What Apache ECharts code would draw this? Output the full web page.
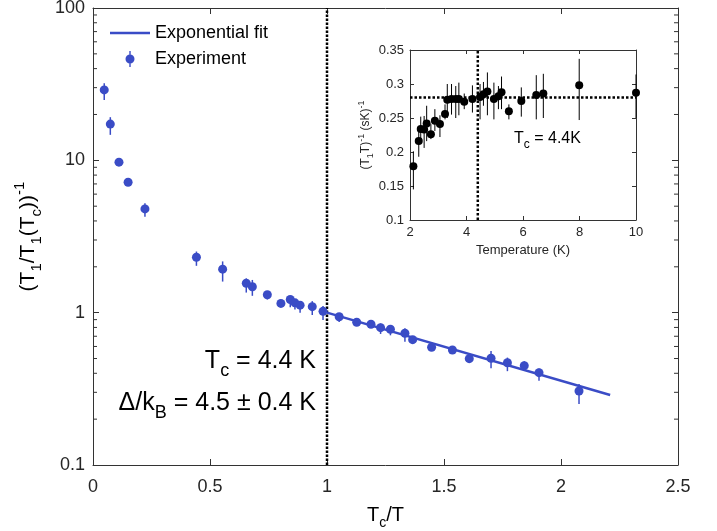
<!DOCTYPE html>
<html><head><meta charset="utf-8">
<script src="https://cdn.jsdelivr.net/npm/echarts@6/dist/echarts.min.js"></script>
<style>html,body{margin:0;padding:0;background:#fff}#c{width:717px;height:531px}</style>
</head><body><div id="c"></div>
<script>
// ---- Main plot data: Tc/T vs (T1/T1(Tc))^-1 ----
const mainX  = [0.048,0.074,0.111,0.150,0.222,0.442,0.554,0.655,0.681,0.745,0.803,0.843,0.863,0.885,0.937,0.983,1.052,1.127,1.188,1.229,1.271,1.333,1.366,1.447,1.536,1.608,1.701,1.771,1.843,1.906,2.077];
const mainY  = [29.0,17.3,9.73,7.18,4.80,2.31,1.93,1.56,1.48,1.31,1.15,1.22,1.16,1.12,1.095,1.02,0.94,0.865,0.839,0.797,0.778,0.732,0.665,0.593,0.569,0.499,0.502,0.469,0.449,0.404,0.306];
const mainHi = [32.1,19.2,10.3,7.5,5.23,2.52,2.17,1.68,1.64,1.35,1.19,1.27,1.20,1.16,1.19,1.105,0.98,0.905,0.886,0.85,0.83,0.79,0.70,0.615,0.60,0.53,0.56,0.507,0.48,0.43,0.340];
const mainLo = [24.9,14.7,9.2,6.9,4.27,2.03,1.60,1.355,1.29,1.22,1.11,1.085,1.05,1.0,0.965,0.895,0.87,0.82,0.80,0.725,0.71,0.645,0.635,0.57,0.54,0.47,0.432,0.413,0.418,0.358,0.251];
const fitX = [1.0, 2.21];
const fitY = [1.0, 0.288];
const mainTcLine = 1.0;
const mainYMinorTicks = [0.2,0.3,0.4,0.5,0.6,0.7,0.8,0.9,2,3,4,5,6,7,8,9,20,30,40,50,60,70,80,90];

// ---- Inset data: Temperature vs (T1 T)^-1 ----
const insetT  = [2.12,2.31,2.38,2.50,2.59,2.74,2.88,3.06,3.24,3.32,3.47,3.62,3.73,3.92,4.21,4.48,4.60,4.74,4.97,5.13,5.24,5.50,5.94,6.47,6.72,7.99,10.0];
const insetV  = [0.179,0.216,0.234,0.233,0.242,0.226,0.246,0.241,0.256,0.277,0.278,0.278,0.278,0.274,0.278,0.281,0.285,0.289,0.278,0.282,0.288,0.260,0.275,0.284,0.286,0.298,0.287];
const insetHi = [0.201,0.233,0.252,0.253,0.268,0.241,0.263,0.254,0.270,0.300,0.300,0.297,0.302,0.286,0.298,0.300,0.303,0.317,0.302,0.297,0.311,0.270,0.295,0.313,0.315,0.337,0.314];
const insetLo = [0.145,0.193,0.213,0.206,0.216,0.219,0.231,0.222,0.248,0.250,0.255,0.250,0.254,0.263,0.258,0.248,0.268,0.254,0.248,0.263,0.263,0.248,0.252,0.248,0.250,0.247,0.250];
const insetTc = 4.4;
const insetLevel = 0.28;

const BLUE = '#3a4cc6';
const AX = '#333333';
const FONT = 'Liberation Sans, Arial, Helvetica, sans-serif';

const chart = echarts.init(document.getElementById('c'), null, {renderer:'canvas'});

function errBar(color, w) {
  return function (params, api) {
    const x = api.value(0);
    const p1 = api.coord([x, api.value(1)]);
    const p2 = api.coord([x, api.value(2)]);
    return {type:'line', shape:{x1:p1[0], y1:p1[1], x2:p2[0], y2:p2[1]}, style:{stroke:color, lineWidth:w}};
  };
}

const subRich = (fs, color) => ({
  b:{fontSize:fs, fontFamily:FONT, color:color||'#000', lineHeight:Math.round(fs*1.5), verticalAlign:'middle'},
  s:{fontSize:Math.round(fs*0.72), fontFamily:FONT, color:color||'#000', lineHeight:Math.round(fs*1.5), verticalAlign:'bottom'},
  p:{fontSize:Math.round(fs*0.72), fontFamily:FONT, color:color||'#000', lineHeight:Math.round(fs*1.5), verticalAlign:'top'}
});

const line = {onZero:false, lineStyle:{color:AX}};

const option = {
  animation:false,
  backgroundColor:'#fff',
  textStyle:{fontFamily:FONT},
  legend:{
    left:105, top:19, orient:'vertical', itemWidth:40, itemHeight:16, itemGap:8,
    textStyle:{fontSize:18, color:'#000', fontFamily:FONT},
    data:[
      {name:'Exponential fit', icon:'path://M0,0 L40,0 L40,2.5 L0,2.5 Z'},
      {name:'Experiment', icon:'path://M5,3.5 A4.5,4.5 0 1,1 4.99,3.5 Z M4.3,0 L5.7,0 L5.7,16 L4.3,16 Z'}
    ]
  },
  grid:[
    {left:93, top:8, width:585, height:457, outerBoundsMode:'none', containLabel:false},
    {left:410, top:50, width:226, height:170, outerBoundsMode:'none', containLabel:false, show:true, backgroundColor:'#fff', borderWidth:0}
  ],
  xAxis:[
    {gridIndex:0, type:'value', min:0, max:2.5, interval:0.5, position:'bottom',
     axisLine:line, axisTick:{inside:true, length:6, lineStyle:{color:AX}},
     axisLabel:{fontSize:18, color:'#262626', margin:13, fontFamily:FONT, formatter:v=>String(v)}, splitLine:{show:false},
     name:'{b|T}{s|c}{b|/T}', nameLocation:'middle', nameGap:35,
     nameTextStyle:{rich:subRich(20)}},
    {gridIndex:0, type:'value', min:0, max:2.5, interval:0.5, position:'top',
     axisLine:line, axisTick:{inside:true, length:6, lineStyle:{color:AX}},
     axisLabel:{show:false}, splitLine:{show:false}},
    {gridIndex:1, type:'value', min:2, max:10, interval:2, position:'bottom',
     axisLine:line, axisTick:{inside:true, length:4, lineStyle:{color:AX}},
     axisLabel:{fontSize:13, color:'#262626', margin:6, fontFamily:FONT}, splitLine:{show:false},
     name:'Temperature (K)', nameLocation:'middle', nameGap:24,
     nameTextStyle:{fontSize:13, color:'#262626', fontFamily:FONT}},
    {gridIndex:1, type:'value', min:2, max:10, interval:2, position:'top',
     axisLine:line, axisTick:{inside:true, length:4, lineStyle:{color:AX}},
     axisLabel:{show:false}, splitLine:{show:false}}
  ],
  yAxis:[
    {gridIndex:0, type:'log', logBase:10, min:0.1, max:100, position:'left',
     axisLine:Object.assign({show:true}, line), axisTick:{show:true, inside:true, length:6, lineStyle:{color:AX}},
     axisLabel:{fontSize:18, color:'#262626', margin:8, fontFamily:FONT, formatter:v=>String(+v.toPrecision(3))}, splitLine:{show:false},
     name:'{b|(T}{s|1}{b|/T}{s|1}{b|(T}{s|c}{b|))}{p|-1}', nameLocation:'middle', nameGap:46, nameRotate:90,
     nameTextStyle:{rich:subRich(21)}},
    {gridIndex:0, type:'log', logBase:10, min:0.1, max:100, position:'right',
     axisLine:Object.assign({show:true}, line), axisTick:{show:true, inside:true, length:6, lineStyle:{color:AX}},
     axisLabel:{show:false}, splitLine:{show:false}},
    {gridIndex:1, type:'value', min:0.1, max:0.35, interval:0.05, position:'left',
     axisLine:Object.assign({show:true}, line), axisTick:{show:true, inside:true, length:4, lineStyle:{color:AX}},
     axisLabel:{fontSize:13, color:'#262626', margin:6, fontFamily:FONT, formatter:v=>String(+v.toFixed(2))}, splitLine:{show:false},
     name:'{b|(T}{s|1}{b|T)}{p|-1}{b| (sK)}{p|-1}', nameLocation:'middle', nameGap:24, nameRotate:90,
     nameTextStyle:{rich:{
       b:{fontSize:12, color:'#262626', fontFamily:FONT, lineHeight:18, verticalAlign:'middle'},
       s:{fontSize:9, color:'#262626', fontFamily:FONT, lineHeight:18, verticalAlign:'bottom'},
       p:{fontSize:9, color:'#262626', fontFamily:FONT, lineHeight:18, verticalAlign:'top'}}}},
    {gridIndex:1, type:'value', min:0.1, max:0.35, interval:0.05, position:'right',
     axisLine:Object.assign({show:true}, line), axisTick:{show:true, inside:true, length:4, lineStyle:{color:AX}},
     axisLabel:{show:false}, splitLine:{show:false}}
  ],
  graphic:[
    {type:'text', right:717-316, top:349, z:50,
     style:{text:'{b|T}{s|c}{b| = 4.4 K}', rich:subRich(25), align:'right'}},
    {type:'text', right:717-316, top:391, z:50,
     style:{text:'{b|Δ/k}{s|B}{b| = 4.5 ± 0.4 K}', rich:subRich(25), align:'right'}},
    {type:'text', left:514, top:131, z:50,
     style:{text:'{b|T}{s|c}{b| = 4.4K}', rich:{
       b:{fontSize:16, color:'#000', fontFamily:FONT, lineHeight:24, verticalAlign:'middle'},
       s:{fontSize:12, color:'#000', fontFamily:FONT, lineHeight:24, verticalAlign:'bottom'}}}}
  ],
  series:[
    {type:'custom', name:'minorTicks', xAxisIndex:0, yAxisIndex:0, silent:true, clip:false, z:5,
     data:mainYMinorTicks.map(v=>[0, v]),
     renderItem:function(params, api){
       const v = api.value(1);
       const l = api.coord([0, v]);
       const r = api.coord([2.5, v]);
       return {type:'group', children:[
         {type:'line', shape:{x1:l[0], y1:l[1], x2:l[0]+4, y2:l[1]}, style:{stroke:AX, lineWidth:1}},
         {type:'line', shape:{x1:r[0]-4, y1:r[1], x2:r[0], y2:r[1]}, style:{stroke:AX, lineWidth:1}}
       ]};
     }},
    {type:'line', name:'TcLineMain', xAxisIndex:0, yAxisIndex:0, symbol:'none', silent:true, z:3,
     data:[[mainTcLine, 0.1],[mainTcLine, 100]],
     lineStyle:{color:'#000', width:2.5, type:[2.5,1.5]}},
    {type:'line', name:'Exponential fit', xAxisIndex:0, yAxisIndex:0, symbol:'none', z:4,
     data:fitX.map((x,i)=>[x, fitY[i]]),
     lineStyle:{color:BLUE, width:2.5}, itemStyle:{color:BLUE}},
    {type:'custom', name:'Experiment', xAxisIndex:0, yAxisIndex:0, z:6,
     data:mainX.map((x,i)=>[x, mainLo[i], mainHi[i]]),
     encode:{x:0, y:[1,2]}, itemStyle:{color:BLUE},
     renderItem:errBar(BLUE, 1.5)},
    {type:'scatter', name:'Experiment', xAxisIndex:0, yAxisIndex:0, z:7,
     data:mainX.map((x,i)=>[x, mainY[i]]), symbol:'circle', symbolSize:9,
     itemStyle:{color:BLUE, opacity:1}},
    // inset
    {type:'line', name:'insetTc', xAxisIndex:2, yAxisIndex:2, symbol:'none', silent:true, z:3,
     data:[[insetTc, 0.1],[insetTc, 0.35]],
     lineStyle:{color:'#000', width:2.5, type:[2.5,2]}},
    {type:'line', name:'insetLevel', xAxisIndex:2, yAxisIndex:2, symbol:'none', silent:true, z:3,
     data:[[2, insetLevel],[10, insetLevel]],
     lineStyle:{color:'#000', width:2.5, type:[2.5,2]}},
    {type:'custom', name:'insetErr', xAxisIndex:2, yAxisIndex:2, z:6, silent:true,
     data:insetT.map((x,i)=>[x, insetLo[i], insetHi[i]]),
     encode:{x:0, y:[1,2]},
     renderItem:errBar('#000', 1)},
    {type:'scatter', name:'insetPts', xAxisIndex:2, yAxisIndex:2, z:7, clip:false,
     data:insetT.map((x,i)=>[x, insetV[i]]), symbol:'circle', symbolSize:8,
     itemStyle:{color:'#000', opacity:1}}
  ]
};
chart.setOption(option);
</script></body></html>
